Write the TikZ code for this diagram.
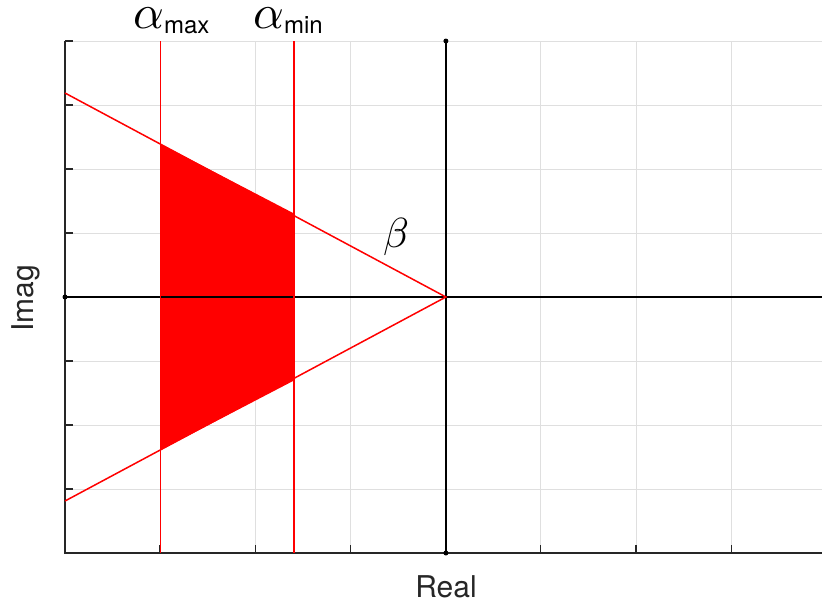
\documentclass[tikz,border=0pt]{standalone}
\usepackage{fontspec}
\setmainfont{TeX Gyre Heros}
\definecolor{axc}{HTML}{262626}
\definecolor{gridc}{HTML}{DFDFDF}
\definecolor{redc}{HTML}{FF0000}
\begin{document}
\begin{tikzpicture}[x=1pt,y=-1pt,
  gridline/.style={draw=gridc,line width=1pt},
  axisline/.style={draw=axc,line width=1.3pt},
  redline/.style={draw=redc,line width=1.5pt},
  dot/.style={circle,fill=black,inner sep=0pt,minimum size=5pt},
  lbl/.style={inner sep=0pt,text=axc}]
\useasboundingbox (0,0) rectangle (822,606);
% grid
\foreach \x in {160,255.5,350.7,540.7,636,731.2} \draw[gridline] (\x,41) -- (\x,553);
\foreach \y in {41,105,169,233,361,425,489} \draw[gridline] (65,\y) -- (822,\y);
% wedge region fill
\coordinate (top) at (65,93);
\coordinate (bot) at (65,501);
\coordinate (apex) at (445.9,297);
\coordinate (amaxt) at (160.6,41);
\coordinate (amaxb) at (160.6,553);
\coordinate (amint) at (294,41);
\coordinate (aminb) at (294,553);
\fill[redc] (160.6,144) -- (294,213.5) -- (294,380.5) -- (160.6,450) -- cycle;
% axes
\draw[axisline] (65,41) -- (65,553) -- (822,553);
\foreach \y in {41,105,169,233,297,361,425,489} \draw[axisline] (65,\y) -- (73,\y);
\foreach \x in {160,255.5,350.7,540.7,636,731.2} \draw[axisline] (\x,553) -- (\x,545);
\draw[draw=black,line width=1.3pt] (445.9,41) -- (445.9,553);
\draw[draw=black,line width=1.3pt] (65,297) -- (822,297);
\node[dot] (d1) at (445.9,41) {};
\node[dot] (d2) at (445.9,553) {};
\node[dot] (d3) at (65,297) {};
% red lines
\draw[redline] (amaxt) -- (amaxb);
\draw[redline] (amint) -- (aminb);
\draw[redline] (top) -- (apex) -- (bot);
% labels
\node[lbl,text=black,anchor=base west] (amax) at (133,28) {\scalebox{4.8}{$\alpha$}\raisebox{-5pt}{\fontsize{24}{26}\selectfont max}};
\node[lbl,text=black,anchor=base west] (amin) at (253,28) {\scalebox{4.8}{$\alpha$}\raisebox{-5pt}{\fontsize{24}{26}\selectfont min}};
\node[lbl,text=black,anchor=base] (beta) at (396,247) {\scalebox{4.2}{$\beta$}};
\node[lbl,anchor=base] (real) at (446,597) {\fontsize{30}{36}\selectfont Real};
\node[lbl,anchor=base,rotate=90] (imag) at (33,298) {\fontsize{30}{36}\selectfont Imag};
\end{tikzpicture}
\end{document}
